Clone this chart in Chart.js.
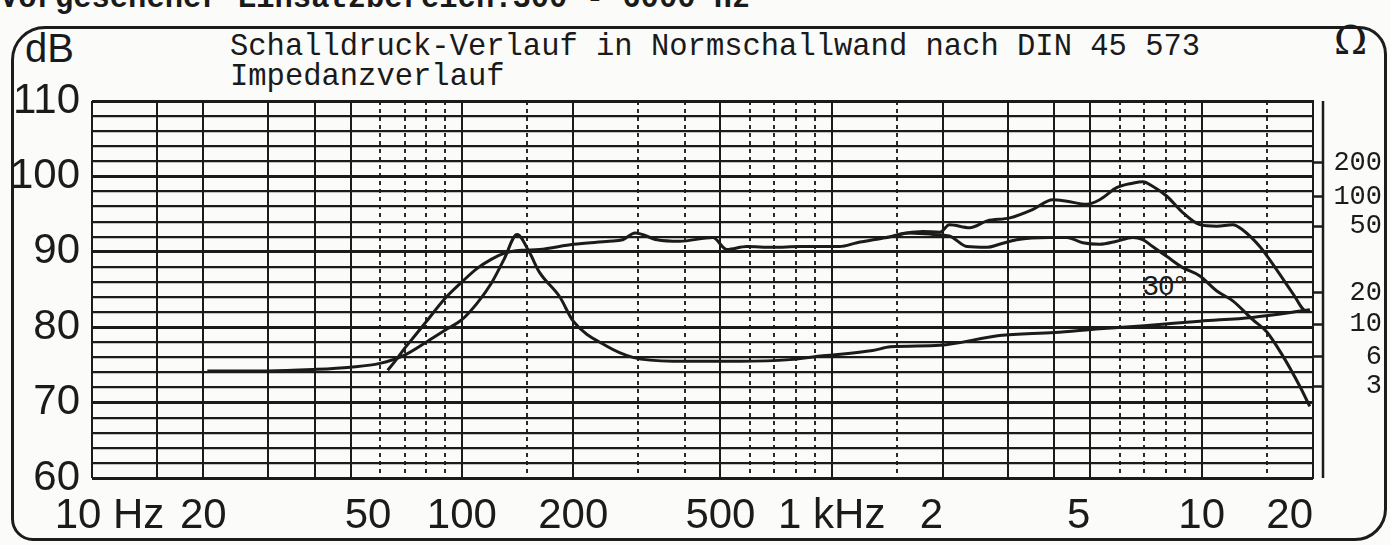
<!DOCTYPE html>
<html>
<head>
<meta charset="utf-8">
<script src="https://cdn.jsdelivr.net/npm/chart.js@4.4.0/dist/chart.umd.min.js"></script>
<style>
  html, body { margin: 0; padding: 0; background: #fbfbf9; }
  #wrap { position: relative; width: 1390px; height: 545px; overflow: hidden; }
  #frame { position: absolute; left: 11px; top: 26px; width: 1370px; height: 509px;
           border: 3px solid #1c1c1c; border-radius: 34px 28px 32px 22px; }
  canvas { position: absolute; left: 0; top: 0; }
  .mono { position: absolute; font-family: 'Liberation Mono', 'DejaVu Sans Mono', monospace;
          font-size: 30.5px; line-height: 30px; color: #1a1a1a; white-space: pre; }
  .sans { position: absolute; font-family: 'Liberation Sans Narrow', 'Liberation Sans', sans-serif;
          color: #1a1a1a; white-space: pre; }
</style>
</head>
<body>
<div id="wrap">
  <div id="frame"></div>
  <div class="mono" style="left:0; top:-16px; font-weight:bold;">Vorgesehener Einsatzbereich:300 - 6000 Hz</div>
  <div class="sans" style="left:25px; top:28px; font-size:40px; line-height:40px;">dB</div>
  <div class="mono" style="left:230px; top:32px;">Schalldruck-Verlauf in Normschallwand nach DIN 45 573</div>
  <div class="mono" style="left:230px; top:62px;">Impedanzverlauf</div>
  <div class="sans" style="left:1334px; top:20px; font-size:40px; line-height:40px; font-family:'DejaVu Serif', serif;">Ω</div>
  <div class="sans" style="left:1143px; top:272px; font-size:28px; line-height:28px;">30°</div>
  <canvas id="c" width="1390" height="545"></canvas>
</div>
<script>
// frequency grid of the chart paper
const gridSolid = [10, 15, 20, 30, 40, 50, 100, 200, 500, 1000, 2000, 3000, 4000, 5000, 10000, 20000];
const gridDotted = [60, 70, 80, 90, 150, 300, 400, 600, 700, 800, 900, 1500, 6000, 7000, 8000, 9000, 15000];
const xLabelFreqs = [10, 20, 50, 100, 200, 500, 1000, 2000, 5000, 10000, 20000];
// padded like the printed scale, where some figures sit beside their line
const xLabelTexts = ['   10 Hz', '20', '   50', '100', '200', '500', '1 kHz', '2  ', '5  ', '10', '20    '];

// impedance scale on the right, placed at dB positions of the paper
const ohmLabels = ['200', '100', '50', '20', '10', '6', '3'];
const ohmPos = [101.8, 97.3, 93.4, 84.6, 80.4, 76.1, 72.2];

// impedance curve (drawn in dB units of the paper)
const impFreq = [20.5, 30, 40, 50, 60, 70, 80, 90, 100, 110, 120, 130, 141, 152, 162, 184, 200, 246, 290, 372,
                 564, 770, 946, 1290, 1440, 1960, 2840, 4000, 5300, 7000, 9890, 13700, 19600];
const impLevel = [74.2, 74.2, 74.4, 74.7, 75.2, 76.3, 78.0, 79.6, 81.0, 83.2, 85.8, 89.0, 92.3, 90.0, 87.3, 84.0, 80.8, 77.5, 76.0, 75.5,
                  75.5, 75.7, 76.2, 76.9, 77.4, 77.6, 78.9, 79.3, 79.8, 80.2, 80.8, 81.3, 82.3];

// sound pressure, on axis
const splFreq = [63, 66, 70, 75, 80, 90, 100, 110, 120, 130, 145, 162, 200, 250, 272, 294, 337, 388, 477, 520,
                 589, 693, 820, 946, 1050, 1170, 1440, 1600, 1760, 1960, 2080, 2360, 2630, 3030, 3490, 3960, 4320,
                 4890, 5300, 5890, 6510, 6930, 7370, 8040, 8890, 9890, 10990, 12140, 12920, 14360, 15960, 17630, 19230, 19600];
const splOnAxis = [74.3, 75.5, 77.2, 79.0, 80.7, 83.8, 86.0, 87.8, 89.0, 89.8, 90.2, 90.3, 91.0, 91.4, 91.6, 92.5, 91.6, 91.4, 91.9, 90.3,
                   90.7, 90.6, 90.7, 90.7, 90.7, 91.2, 92.0, 92.5, 92.7, 92.6, 93.6, 93.2, 94.1, 94.5, 95.6, 96.9, 96.7,
                   96.3, 96.9, 98.5, 99.1, 99.3, 98.7, 97.4, 95.2, 93.6, 93.4, 93.6, 92.9, 90.7, 87.6, 84.5, 82.1, 82.3];

// sound pressure, 30 degrees off axis
const spl30Freq = [1440, 1600, 1880, 2080, 2320, 2630, 2840, 3160, 3880, 4320, 4770, 5300, 5890, 6510, 6930, 7370,
                   8040, 8890, 9890, 10990, 12140, 13740, 14990, 16570, 18410, 19600];
const spl30 = [92.0, 92.5, 92.3, 92.1, 90.7, 90.6, 91.0, 91.6, 91.9, 91.9, 91.2, 91.0, 91.4, 91.9, 91.6, 90.7,
               89.4, 87.9, 86.8, 84.8, 83.5, 81.0, 79.4, 76.2, 72.2, 69.5];

const ink = '#1b1b1b';
const sans = "'Liberation Sans Narrow', 'Liberation Sans', sans-serif";
const mono = "'Liberation Mono', 'DejaVu Sans Mono', monospace";

const pts = (fs, vs) => fs.map((f, i) => ({ x: f, y: vs[i] }));
const curve = (data) => ({
  data, borderColor: ink, borderWidth: 3, pointRadius: 0,
  cubicInterpolationMode: 'monotone', fill: false
});

// second frame line right of the 20 kHz line
const outerLine = {
  id: 'outerLine',
  afterDraw(chart) {
    const { ctx, chartArea } = chart;
    ctx.save();
    ctx.strokeStyle = ink;
    ctx.lineWidth = 2.5;
    ctx.beginPath();
    ctx.moveTo(chartArea.right + 10, chartArea.top);
    ctx.lineTo(chartArea.right + 10, chartArea.bottom);
    ctx.stroke();
    ctx.restore();
  }
};

new Chart(document.getElementById('c').getContext('2d'), {
  type: 'line',
  data: {
    datasets: [
      curve(pts(impFreq, impLevel)),
      curve(pts(splFreq, splOnAxis)),
      curve(pts(spl30Freq, spl30))
    ]
  },
  options: {
    responsive: false,
    animation: false,
    layout: { padding: { left: 0, top: 101, right: 8, bottom: 0 } },
    plugins: { legend: { display: false }, tooltip: { enabled: false } },
    scales: {
      x: {
        type: 'logarithmic', position: 'bottom', min: 10, max: 20000,
        afterBuildTicks: s => { s.ticks = gridSolid.map(v => ({ value: v })); },
        afterFit: s => { s.height = 67; },
        grid: { color: ink, lineWidth: 2, drawTicks: false },
        border: { display: false },
        ticks: {
          autoSkip: false, maxRotation: 0, padding: 13, color: ink,
          font: { family: sans, size: 42 },
          callback: v => { const i = xLabelFreqs.indexOf(v); return i < 0 ? '' : xLabelTexts[i]; }
        }
      },
      x2: {
        type: 'logarithmic', position: 'bottom', min: 10, max: 20000,
        afterBuildTicks: s => { s.ticks = gridDotted.map(v => ({ value: v })); },
        afterFit: s => { s.height = 0; },
        grid: { color: '#2a2a2a', lineWidth: 2, drawTicks: false },
        border: { display: false, dash: [4, 4] },
        ticks: { display: false }
      },
      y: {
        position: 'left', min: 60, max: 110,
        afterFit: s => { s.width = 92; },
        grid: {
          color: ink, drawTicks: false,
          lineWidth: c => (c.tick && c.tick.value % 10 === 0) ? 3 : 2.2
        },
        border: { display: false },
        ticks: {
          stepSize: 2, autoSkip: false, padding: 12, color: ink,
          font: { family: sans, size: 42 },
          callback: v => (v % 10 === 0 ? String(v) : '')
        }
      },
      y2: {
        position: 'right', min: 60, max: 110,
        afterBuildTicks: s => { s.ticks = ohmPos.map(v => ({ value: v })); },
        afterFit: s => { s.width = 69; },
        grid: { drawOnChartArea: false, drawTicks: true, tickLength: 10, tickWidth: 2.5, tickColor: ink },
        border: { display: true, color: ink, width: 2 },
        ticks: {
          autoSkip: false, crossAlign: 'far', padding: 4, color: ink,
          font: { family: mono, size: 27 },
          callback: (v, i) => ohmLabels[i]
        }
      }
    }
  },
  plugins: [outerLine]
});
</script>
</body>
</html>
